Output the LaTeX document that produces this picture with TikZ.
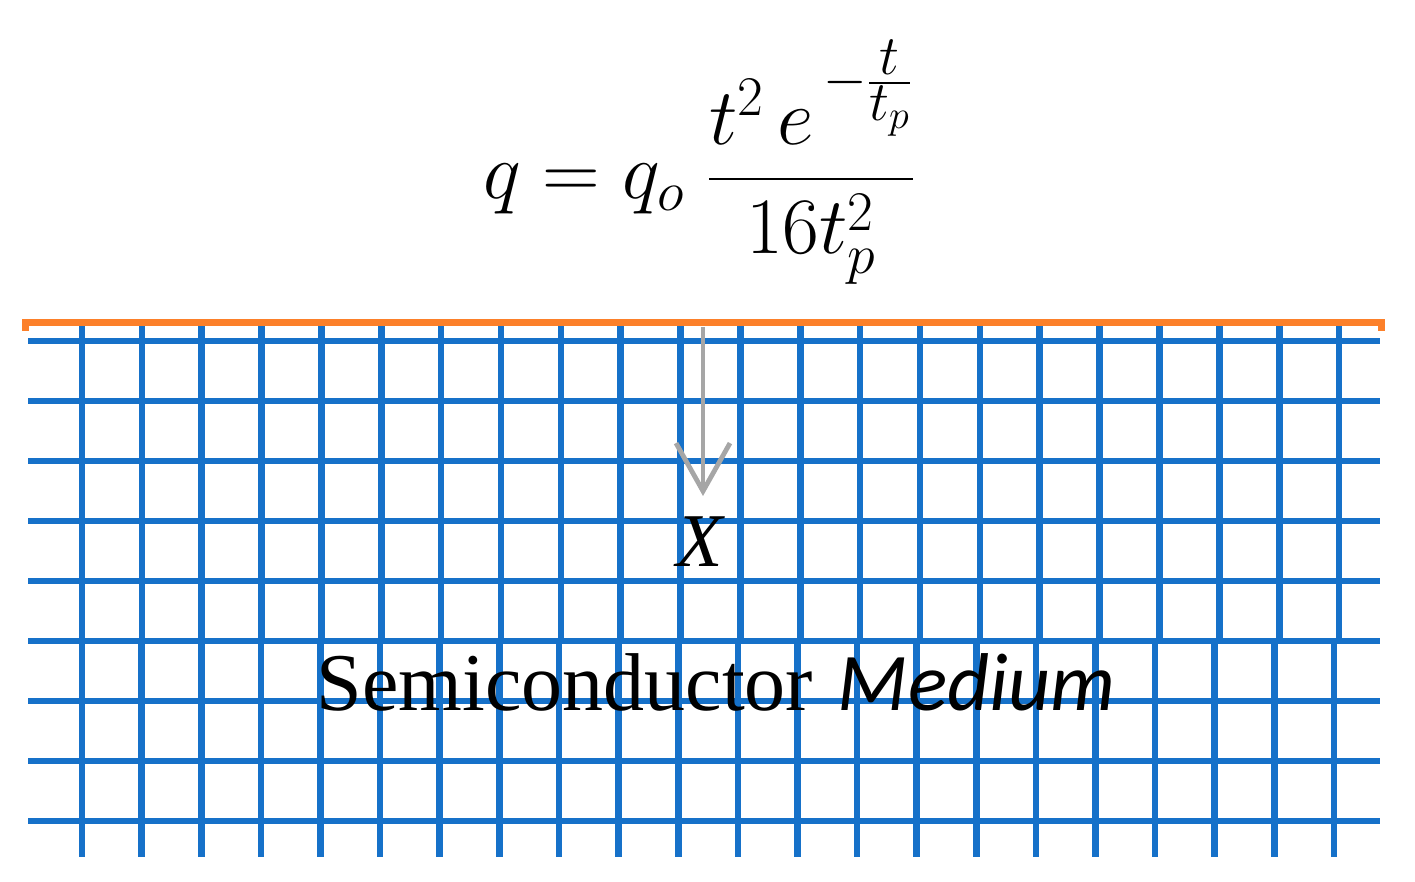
\RequirePackage{fix-cm}
\documentclass[tikz,border=0pt]{standalone}
\usepackage{amsmath}
\usepackage{fontspec}
\newfontfamily\timesf{Liberation Serif}
\newfontfamily\calf{Carlito}
\usetikzlibrary{arrows.meta}
\definecolor{gridblue}{RGB}{22,113,201}
\definecolor{surforange}{RGB}{252,128,42}
\definecolor{arrowgray}{RGB}{166,166,166}
\tikzset{
  gridline/.style={draw=gridblue, line width=3.3pt},
  surface/.style={draw=surforange, line width=3.5pt, line join=miter},
  depth/.style={draw=arrowgray, line width=2.4pt, -{Straight Barb[length=24pt,width=27pt]}},
  lbl/.style={inner sep=0pt, outer sep=0pt, text=black}
}
\begin{document}
\begin{tikzpicture}[x=0.5pt,y=-0.5pt]
\useasboundingbox (0,0) rectangle (1415,882);
% grid
\foreach \i in {0,...,21} {
  \draw[gridline] ({82+59.86*\i},326) -- ({82+59.86*\i},640);
  \draw[gridline] ({82+59.62*\i},640) -- ({82+59.62*\i},857);
}
\foreach \j in {0,...,8} {
  \draw[gridline] (28,{341+60*\j}) -- (1380,{341+60*\j});
}
% surface
\draw[surface] (25,331) -- (25,322.5) -- (1381,322.5) -- (1381,331);
% depth arrow
\coordinate (src) at (703,327);
\coordinate (tip) at (703,496);
\draw[depth] (src) -- (tip);
% labels
\node[lbl, font=\fontsize{38}{40}\selectfont] (xlab) at (700,542) {\timesf\itshape X};
\node[lbl, anchor=base, font=\fontsize{41}{46}\selectfont] (medium) at (716,710)
  {{\timesf Semiconductor} {\calf\itshape Medium}};
\node[lbl, anchor=base west, font=\fontsize{40}{44}\selectfont] (eq) at (483,199)
  {$q = q_o\;\dfrac{t^{2}\,e^{\,-\frac{\scriptstyle t}{\scriptstyle t_p}}}{16t_p^{2}}$};
\end{tikzpicture}
\end{document}
